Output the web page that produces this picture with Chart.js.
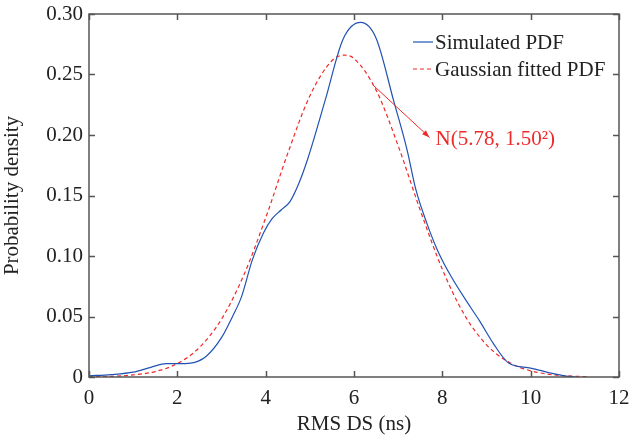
<!DOCTYPE html>
<html>
<head>
<meta charset="utf-8">
<script src="https://cdn.jsdelivr.net/npm/chart.js@4/dist/chart.umd.min.js"></script>
<style>
  html, body { margin: 0; padding: 0; background: #fff; }
  #chart { display: block; }
</style>
</head>
<body>
<canvas id="chart" width="629" height="437"></canvas>
<script>
// simulated PDF
const simX = [0, 0.5, 1.0, 1.4, 1.75, 2.0, 2.3, 2.65, 3.0, 3.25, 3.45, 3.7, 3.95, 4.15, 4.35, 4.55, 4.75, 4.95, 5.35, 5.75, 6.15, 6.5, 6.9, 7.2, 7.4, 7.65, 7.9, 8.2, 8.65, 8.85, 9.15, 9.5, 10.0, 10.45, 10.8, 11.0];
const simY = [0.001, 0.002, 0.004, 0.008, 0.011, 0.011, 0.0115, 0.017, 0.0325, 0.05, 0.066, 0.097, 0.119, 0.131, 0.138, 0.145, 0.160, 0.180, 0.229, 0.279, 0.293, 0.280, 0.228, 0.188, 0.155, 0.127, 0.104, 0.083, 0.057, 0.046, 0.028, 0.0116, 0.0074, 0.0033, 0.0008, 0.0002];

// gaussian fitted PDF
const fitX = [0, 0.5, 1, 1.5, 2, 2.5, 3, 3.5, 4, 4.5, 5, 5.5, 5.78, 6, 6.5, 7, 7.5, 8, 8.5, 9, 9.5, 10, 10.5, 11, 11.3];
const fitY = [0.0002, 0.0005, 0.0017, 0.0045, 0.0111, 0.0244, 0.0478, 0.0838, 0.1315, 0.1848, 0.2323, 0.2614, 0.266, 0.2632, 0.2371, 0.1911, 0.1378, 0.089, 0.0514, 0.0266, 0.0123, 0.0051, 0.0019, 0.0006, 0.0003];

const xTicks = [0, 2, 4, 6, 8, 10, 12];
const yTicks = [0, 0.05, 0.10, 0.15, 0.20, 0.25, 0.30];
const seriesNames = ['Simulated PDF', 'Gaussian fitted PDF'];

// arrow annotation: from a point on the fitted curve to the label
const noteFrom = [6.42, 0.2416];
const noteTo = [7.71, 0.198];
const noteText = 'N(5.78, 1.50\u00B2)';

const BLUE = '#2152b3';
const RED = '#ee2a2a';
const AXIS = '#555';
const FONT = '"Liberation Serif", "Times New Roman", serif';

const toPoints = (xs, ys) => xs.map((x, i) => ({ x: x, y: ys[i] }));

const framePlugin = {
    id: 'frame',
    afterDraw(chart) {
        const ctx = chart.ctx;
        const a = chart.chartArea;
        const xs = chart.scales.x;
        const ys = chart.scales.y;
        ctx.save();

        // box + inward ticks
        ctx.strokeStyle = AXIS;
        ctx.lineWidth = 1.5;
        ctx.strokeRect(a.left, a.top, a.right - a.left, a.bottom - a.top);
        ctx.beginPath();
        xTicks.forEach(v => {
            const px = Math.round(xs.getPixelForValue(v)) + 0.5;
            ctx.moveTo(px, a.bottom); ctx.lineTo(px, a.bottom - 6);
            ctx.moveTo(px, a.top); ctx.lineTo(px, a.top + 6);
        });
        yTicks.forEach(v => {
            const py = Math.round(ys.getPixelForValue(v)) + 0.5;
            ctx.moveTo(a.left, py); ctx.lineTo(a.left + 6, py);
            ctx.moveTo(a.right, py); ctx.lineTo(a.right - 6, py);
        });
        ctx.stroke();

        // legend
        ctx.font = '21px ' + FONT;
        ctx.textBaseline = 'middle';
        ctx.fillStyle = '#222';
        ctx.lineWidth = 1.2;
        ctx.strokeStyle = BLUE;
        ctx.beginPath(); ctx.moveTo(413, 42); ctx.lineTo(433, 42); ctx.stroke();
        ctx.fillText(seriesNames[0], 435, 43);
        ctx.strokeStyle = RED;
        ctx.setLineDash([4, 3]);
        ctx.beginPath(); ctx.moveTo(413, 69); ctx.lineTo(433, 69); ctx.stroke();
        ctx.setLineDash([]);
        ctx.fillText(seriesNames[1], 435, 70);

        // annotation arrow
        const x1 = xs.getPixelForValue(noteFrom[0]), y1 = ys.getPixelForValue(noteFrom[1]);
        const x2 = xs.getPixelForValue(noteTo[0]), y2 = ys.getPixelForValue(noteTo[1]);
        const ang = Math.atan2(y2 - y1, x2 - x1);
        ctx.strokeStyle = RED;
        ctx.fillStyle = RED;
        ctx.lineWidth = 1;
        ctx.beginPath(); ctx.moveTo(x1, y1); ctx.lineTo(x2, y2); ctx.stroke();
        ctx.beginPath();
        ctx.moveTo(x2, y2);
        ctx.lineTo(x2 - 8 * Math.cos(ang - 0.35), y2 - 8 * Math.sin(ang - 0.35));
        ctx.lineTo(x2 - 8 * Math.cos(ang + 0.35), y2 - 8 * Math.sin(ang + 0.35));
        ctx.closePath();
        ctx.fill();
        ctx.textBaseline = 'alphabetic';
        ctx.fillText(noteText, x2 + 6, y2 + 8);

        ctx.restore();
    }
};

new Chart(document.getElementById('chart'), {
    type: 'scatter',
    data: {
        datasets: [
            {
                label: seriesNames[0],
                data: toPoints(simX, simY),
                showLine: true,
                borderColor: BLUE,
                borderWidth: 1.2,
                pointRadius: 0,
                cubicInterpolationMode: 'monotone'
            },
            {
                label: seriesNames[1],
                data: toPoints(fitX, fitY),
                showLine: true,
                borderColor: RED,
                borderWidth: 1.2,
                borderDash: [4, 3],
                pointRadius: 0,
                cubicInterpolationMode: 'monotone'
            }
        ]
    },
    options: {
        responsive: false,
        animation: false,
        layout: { padding: { left: 0, right: 10, top: 14, bottom: 0 } },
        plugins: {
            legend: { display: false },
            tooltip: { enabled: false }
        },
        scales: {
            x: {
                type: 'linear',
                min: 0,
                max: 12,
                afterBuildTicks: s => { s.ticks = xTicks.map(v => ({ value: v })); },
                afterFit: s => { s.height = 60; s.paddingLeft = 0; s.paddingRight = 0; },
                grid: { display: false, drawTicks: false },
                border: { display: false },
                ticks: {
                    padding: 9,
                    color: '#222',
                    font: { family: FONT, size: 21 },
                    callback: v => String(v)
                },
                title: {
                    display: true,
                    text: 'RMS DS (ns)',
                    color: '#222',
                    font: { family: FONT, size: 21 },
                    padding: { top: 2, bottom: 0 }
                }
            },
            y: {
                min: 0,
                max: 0.30,
                afterBuildTicks: s => { s.ticks = yTicks.map(v => ({ value: v })); },
                afterFit: s => { s.width = 89; s.paddingTop = 0; s.paddingBottom = 0; },
                grid: { display: false, drawTicks: false },
                border: { display: false },
                ticks: {
                    padding: 6,
                    color: '#222',
                    font: { family: FONT, size: 21 },
                    callback: v => (v === 0 ? '0' : v.toFixed(2))
                },
                title: {
                    display: true,
                    text: 'Probability density',
                    color: '#222',
                    font: { family: FONT, size: 21 },
                    padding: { top: 0, bottom: 0 }
                }
            }
        }
    },
    plugins: [framePlugin]
});
</script>
</body>
</html>
